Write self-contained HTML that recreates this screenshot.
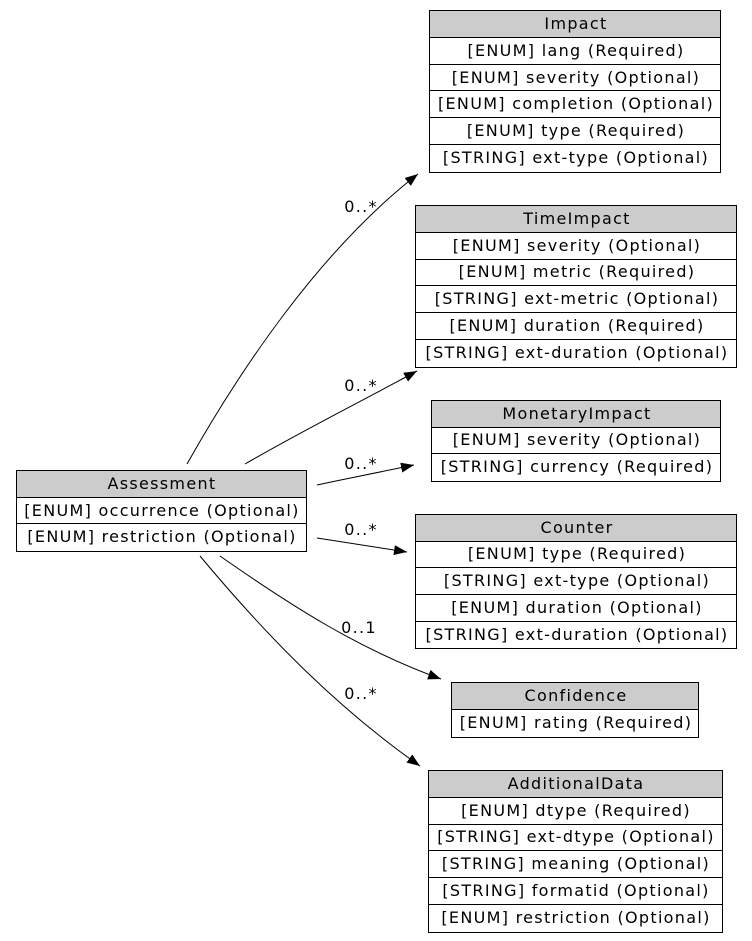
<!DOCTYPE html>
<html><head><meta charset="utf-8"><style>
html,body{margin:0;padding:0;background:#fff;}
svg{display:block;}
text{font-family:"DejaVu Sans","Liberation Sans",sans-serif;font-size:16px;letter-spacing:1.3px;fill:#000;}
</style></head><body>
<svg width="752" height="941" viewBox="0 0 752 941" xmlns="http://www.w3.org/2000/svg">
<defs>
<marker id="a" markerUnits="userSpaceOnUse" markerWidth="14" markerHeight="10" refX="13" refY="5" orient="auto">
<polygon points="0,0 13,5 0,10" fill="#000"/>
</marker>
</defs>
<g fill="none" stroke="#000" stroke-width="1">
<path d="M187,464 C240,370 320,250 418,174" marker-end="url(#a)"/>
<path d="M245,464 C300,432 360,402 417,371" marker-end="url(#a)"/>
<path d="M317,485 C350,478 385,471 414,465" marker-end="url(#a)"/>
<path d="M317,538 C350,543 380,548 407,552" marker-end="url(#a)"/>
<path d="M220,556 C290,605 360,650 441,679" marker-end="url(#a)"/>
<path d="M200,556 C270,640 340,710 420,766" marker-end="url(#a)"/>
</g>
<g text-anchor="middle" transform="translate(1,0)">
<text x="360" y="212">0..*</text>
<text x="360" y="391">0..*</text>
<text x="360" y="469">0..*</text>
<text x="360" y="535">0..*</text>
<text x="358" y="633">0..1</text>
<text x="360" y="699">0..*</text>
</g>
<g stroke="#000" stroke-width="1">
<rect x="16.5" y="470.5" width="290" height="27" fill="#ccc"/>
<rect x="16.5" y="497.5" width="290" height="26" fill="#fff"/>
<rect x="16.5" y="523.5" width="290" height="28" fill="#fff"/>
<rect x="429.5" y="10.5" width="291" height="27" fill="#ccc"/>
<rect x="429.5" y="37.5" width="291" height="27" fill="#fff"/>
<rect x="429.5" y="64.5" width="291" height="26" fill="#fff"/>
<rect x="429.5" y="90.5" width="291" height="27" fill="#fff"/>
<rect x="429.5" y="117.5" width="291" height="27" fill="#fff"/>
<rect x="429.5" y="144.5" width="291" height="28" fill="#fff"/>
<rect x="415.5" y="205.5" width="321" height="27" fill="#ccc"/>
<rect x="415.5" y="232.5" width="321" height="27" fill="#fff"/>
<rect x="415.5" y="259.5" width="321" height="26" fill="#fff"/>
<rect x="415.5" y="285.5" width="321" height="27" fill="#fff"/>
<rect x="415.5" y="312.5" width="321" height="27" fill="#fff"/>
<rect x="415.5" y="339.5" width="321" height="28" fill="#fff"/>
<rect x="431.5" y="400.5" width="289" height="27" fill="#ccc"/>
<rect x="431.5" y="427.5" width="289" height="26" fill="#fff"/>
<rect x="431.5" y="453.5" width="289" height="28" fill="#fff"/>
<rect x="415.5" y="514.5" width="321" height="27" fill="#ccc"/>
<rect x="415.5" y="541.5" width="321" height="26" fill="#fff"/>
<rect x="415.5" y="567.5" width="321" height="27" fill="#fff"/>
<rect x="415.5" y="594.5" width="321" height="27" fill="#fff"/>
<rect x="415.5" y="621.5" width="321" height="27" fill="#fff"/>
<rect x="451.5" y="682.5" width="247" height="27" fill="#ccc"/>
<rect x="451.5" y="709.5" width="247" height="28" fill="#fff"/>
<rect x="428.5" y="770.5" width="294" height="27" fill="#ccc"/>
<rect x="428.5" y="797.5" width="294" height="27" fill="#fff"/>
<rect x="428.5" y="824.5" width="294" height="26" fill="#fff"/>
<rect x="428.5" y="850.5" width="294" height="27" fill="#fff"/>
<rect x="428.5" y="877.5" width="294" height="27" fill="#fff"/>
<rect x="428.5" y="904.5" width="294" height="28" fill="#fff"/>
</g>
<g text-anchor="middle" transform="translate(1,0)">
<text x="161" y="489">Assessment</text>
<text x="161" y="516">[ENUM] occurrence (Optional)</text>
<text x="161" y="542">[ENUM] restriction (Optional)</text>

<text x="575" y="29">Impact</text>
<text x="575" y="56">[ENUM] lang (Required)</text>
<text x="575" y="83">[ENUM] severity (Optional)</text>
<text x="575" y="109">[ENUM] completion (Optional)</text>
<text x="575" y="136">[ENUM] type (Required)</text>
<text x="575" y="163">[STRING] ext-type (Optional)</text>

<text x="576" y="224">TimeImpact</text>
<text x="576" y="251">[ENUM] severity (Optional)</text>
<text x="576" y="277">[ENUM] metric (Required)</text>
<text x="576" y="304">[STRING] ext-metric (Optional)</text>
<text x="576" y="331">[ENUM] duration (Required)</text>
<text x="576" y="358">[STRING] ext-duration (Optional)</text>

<text x="576" y="419">MonetaryImpact</text>
<text x="576" y="445">[ENUM] severity (Optional)</text>
<text x="576" y="472">[STRING] currency (Required)</text>

<text x="576" y="533">Counter</text>
<text x="576" y="559">[ENUM] type (Required)</text>
<text x="576" y="586">[STRING] ext-type (Optional)</text>
<text x="576" y="613">[ENUM] duration (Optional)</text>
<text x="576" y="640">[STRING] ext-duration (Optional)</text>

<text x="575" y="701">Confidence</text>
<text x="575" y="728">[ENUM] rating (Required)</text>

<text x="575" y="789">AdditionalData</text>
<text x="575" y="816">[ENUM] dtype (Required)</text>
<text x="575" y="842">[STRING] ext-dtype (Optional)</text>
<text x="575" y="869">[STRING] meaning (Optional)</text>
<text x="575" y="896">[STRING] formatid (Optional)</text>
<text x="575" y="923">[ENUM] restriction (Optional)</text>
</g>
</svg>
</body></html>
